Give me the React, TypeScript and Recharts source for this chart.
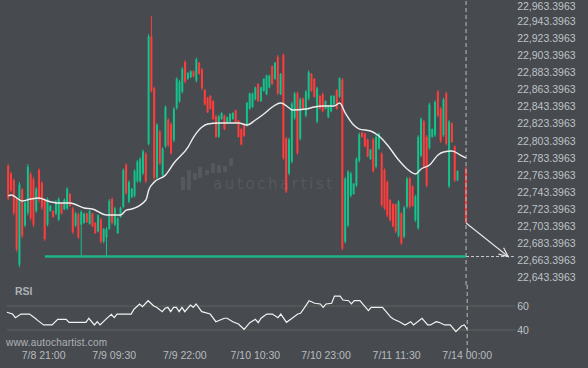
import React from "react";
import {
  ComposedChart,
  Bar,
  Line,
  XAxis,
  YAxis,
  ReferenceLine,
} from "recharts";

// [open, high, low, close] per 30-minute bar, null where no bar is drawn
const candles: (number[] | null)[] = [
  [22774, 22776, 22734, 22736], [22765, 22767, 22743, 22745], [22757, 22759, 22716, 22719],
  [22735, 22737, 22673, 22676], [22658, 22755, 22655, 22752], [22746, 22748, 22689, 22692],
  [22704, 22734, 22702, 22731], [22719, 22776, 22716, 22773], [22764, 22767, 22710, 22713],
  [22758, 22761, 22702, 22705], [22721, 22749, 22719, 22747], [22769, 22771, 22731, 22734],
  [22754, 22756, 22722, 22725], [22734, 22736, 22686, 22688], [22705, 22737, 22703, 22735],
  [22721, 22728, 22720, 22727], [22721, 22722, 22713, 22714], [22718, 22734, 22716, 22732],
  [22711, 22737, 22709, 22735], [22730, 22731, 22717, 22718], [22723, 22736, 22722, 22734],
  [22724, 22749, 22722, 22747], [22741, 22742, 22726, 22727], [22724, 22726, 22694, 22696],
  [22704, 22720, 22702, 22718], [22717, 22719, 22688, 22690], [22705, 22722, 22668, 22720],
  [22707, 22719, 22706, 22718], [22718, 22719, 22707, 22708], [22706, 22722, 22705, 22721],
  [22718, 22719, 22702, 22703], [22707, 22708, 22694, 22695], [22697, 22717, 22696, 22716],
  [22711, 22713, 22683, 22685], [22685, 22701, 22683, 22700], [22690, 22702, 22668, 22700],
  [22700, 22735, 22699, 22733], [22735, 22737, 22705, 22707], [22705, 22726, 22703, 22724],
  [22695, 22714, 22694, 22712], [22714, 22726, 22713, 22725], [22726, 22771, 22724, 22769],
  [22775, 22777, 22740, 22742], [22732, 22757, 22730, 22755], [22737, 22748, 22736, 22747],
  [22739, 22770, 22737, 22768], [22756, 22781, 22754, 22779], [22756, 22784, 22754, 22782],
  [22765, 22793, 22763, 22791], [22788, 22790, 22754, 22756], [22800, 22929, 22798, 22926],
  [22926, 22950, 22860, 22862], [22865, 22867, 22757, 22760], [22760, 22824, 22757, 22822],
  [22814, 22816, 22775, 22777], [22763, 22796, 22761, 22794], [22797, 22845, 22795, 22843],
  [22828, 22830, 22796, 22798], [22823, 22825, 22787, 22789], [22804, 22843, 22802, 22841],
  [22842, 22878, 22840, 22876], [22850, 22875, 22848, 22873], [22861, 22890, 22859, 22888],
  [22896, 22898, 22871, 22873], [22876, 22884, 22875, 22883], [22878, 22886, 22877, 22885],
  [22885, 22886, 22878, 22879], [22874, 22901, 22872, 22899], [22895, 22896, 22881, 22882],
  [22887, 22889, 22863, 22865], [22863, 22864, 22845, 22846], [22854, 22855, 22836, 22837],
  [22856, 22857, 22840, 22841], [22850, 22851, 22828, 22829], [22832, 22834, 22807, 22808],
  [22808, 22834, 22807, 22832], [22829, 22837, 22828, 22836], [22833, 22834, 22816, 22817],
  [22825, 22832, 22824, 22831], [22826, 22836, 22825, 22835], [22829, 22837, 22828, 22836],
  [22839, 22840, 22824, 22825], [22827, 22828, 22807, 22808], [22817, 22818, 22798, 22799],
  [22823, 22824, 22808, 22809], [22821, 22849, 22820, 22848], [22841, 22860, 22840, 22859],
  [22843, 22860, 22842, 22859], [22852, 22867, 22851, 22866], [22870, 22871, 22849, 22850],
  [22850, 22867, 22849, 22866], [22862, 22877, 22861, 22876], [22858, 22881, 22857, 22880],
  [22866, 22881, 22865, 22880], [22891, 22892, 22869, 22870], [22876, 22896, 22875, 22895],
  [22902, 22904, 22857, 22859], [22858, 22883, 22857, 22882], [22904, 22906, 22781, 22783],
  [22806, 22808, 22742, 22744], [22765, 22807, 22763, 22805], [22779, 22849, 22777, 22847],
  [22830, 22861, 22828, 22859], [22859, 22861, 22787, 22789], [22806, 22854, 22804, 22852],
  [22853, 22854, 22840, 22841], [22833, 22863, 22831, 22861], [22853, 22886, 22851, 22884],
  [22882, 22883, 22861, 22862], [22876, 22877, 22854, 22855], [22826, 22867, 22824, 22865],
  [22856, 22857, 22840, 22841], [22858, 22860, 22837, 22838], [22841, 22851, 22840, 22850],
  [22831, 22845, 22830, 22844], [22838, 22857, 22837, 22856], [22846, 22857, 22845, 22856],
  [22863, 22864, 22840, 22841], [22855, 22878, 22854, 22877], [22875, 22877, 22675, 22677],
  [22685, 22761, 22683, 22759], [22704, 22769, 22702, 22767], [22739, 22767, 22737, 22765],
  [22741, 22754, 22740, 22753], [22751, 22784, 22749, 22782], [22780, 22813, 22778, 22811],
  [22813, 22814, 22807, 22808], [22812, 22813, 22796, 22797], [22805, 22806, 22784, 22785],
  [22782, 22794, 22781, 22793], [22805, 22807, 22766, 22768], [22773, 22810, 22771, 22808],
  [22794, 22813, 22793, 22812], [22788, 22790, 22726, 22728], [22769, 22771, 22722, 22724],
  [22755, 22757, 22714, 22716], [22734, 22735, 22709, 22710], [22729, 22730, 22702, 22703],
  [22729, 22730, 22695, 22697], [22692, 22734, 22690, 22732], [22718, 22720, 22681, 22683],
  [22691, 22727, 22689, 22725], [22726, 22761, 22724, 22759], [22759, 22761, 22724, 22726],
  [22750, 22751, 22726, 22727], [22710, 22740, 22708, 22738], [22701, 22810, 22699, 22808],
  [22786, 22831, 22784, 22829], [22826, 22828, 22771, 22773], [22808, 22810, 22749, 22751],
  [22795, 22848, 22793, 22846], [22808, 22818, 22807, 22817], [22810, 22851, 22808, 22849],
  [22861, 22863, 22831, 22833], [22841, 22843, 22801, 22803], [22810, 22854, 22808, 22852],
  [22859, 22861, 22798, 22800], [22750, 22828, 22748, 22826], [22824, 22825, 22801, 22802],
  [22797, 22798, 22755, 22757], [22757, 22769, 22756, 22768], null, null,
  [22771, 22773, 22707, 22707],
];

// moving average at some bars
const maIdx = [0, 1, 5, 8, 11, 14, 18, 22, 27, 30, 35, 40, 42, 44, 49, 50, 52, 56, 59, 64, 66, 69, 71, 75, 82, 85, 88, 91, 94, 97, 100, 101, 106, 109, 112, 116, 118, 120, 123, 125, 129, 132, 135, 139, 142, 145, 147, 150, 153, 155, 158, 161, 163];
const maVal = [22738.6, 22739.7, 22732.7, 22735.0, 22736.2, 22732.7, 22730.3, 22730.3, 22724.5, 22723.3, 22716.2, 22716.2, 22722.1, 22723.3, 22733.9, 22745.6, 22755.0, 22763.2, 22777.3, 22796.1, 22807.8, 22819.6, 22823.1, 22824.3, 22824.3, 22821.9, 22827.8, 22834.8, 22843.1, 22847.8, 22841.9, 22839.5, 22840.7, 22843.1, 22844.2, 22844.2, 22847.8, 22836.0, 22821.9, 22817.2, 22814.9, 22809.0, 22798.4, 22780.8, 22770.3, 22764.4, 22770.3, 22775.0, 22786.7, 22790.2, 22791.4, 22786.7, 22783.2];

// RSI
const rsiIdx = [0, 2, 3, 5, 8, 10, 11, 13, 16, 18, 21, 22, 28, 29, 31, 32, 33, 35, 37, 38, 39, 44, 45, 47, 48, 50, 52, 53, 55, 56, 57, 58, 59, 60, 61, 62, 63, 65, 66, 67, 69, 72, 74, 77, 78, 80, 82, 84, 86, 88, 89, 90, 92, 94, 96, 97, 99, 101, 103, 104, 106, 107, 109, 111, 112, 113, 115, 116, 118, 119, 121, 122, 123, 125, 128, 129, 133, 136, 137, 139, 141, 143, 144, 147, 149, 150, 152, 153, 155, 157, 159, 161, 162, 163];
const rsiVal = [54.8, 53.3, 50.3, 53.3, 53.3, 49.8, 47.8, 44.2, 44.2, 48.9, 48.9, 46.4, 46.4, 49.8, 44.2, 46.9, 44.2, 48.9, 53.1, 50.3, 53.3, 53.3, 57.3, 61.7, 59.4, 64.4, 60.0, 58.9, 55.3, 58.1, 58.9, 55.3, 58.9, 58.9, 55.3, 58.9, 55.3, 60.8, 58.9, 61.7, 55.3, 53.3, 46.9, 49.8, 49.8, 46.9, 45.0, 40.6, 46.1, 48.9, 46.1, 49.8, 53.3, 53.3, 50.3, 53.3, 46.4, 49.8, 53.3, 53.9, 60.8, 64.4, 62.3, 61.7, 58.9, 61.7, 62.3, 68.3, 68.3, 65.0, 64.4, 61.7, 64.4, 64.4, 56.1, 58.9, 58.9, 50.6, 48.9, 46.9, 44.2, 46.9, 44.2, 49.8, 44.2, 44.2, 46.9, 46.4, 44.2, 44.2, 38.6, 43.3, 44.2, 40.6];

const timeTicks = [13, 38, 63, 88, 113, 138, 163];
const timeLabels = ["7/8 21:00", "7/9 09:30", "7/9 22:00", "7/10 10:30", "7/10 23:00", "7/11 11:30", "7/14 00:00"];
const priceTicks = [22643.3963, 22663.3963, 22683.3963, 22703.3963, 22723.3963, 22743.3963, 22763.3963, 22783.3963, 22803.3963, 22823.3963, 22843.3963, 22863.3963, 22883.3963, 22903.3963, 22923.3963, 22943.3963, 22963.3963];
const rsiTicks = [40, 60];

const supportLevel = 22667.5;
const supportFrom = 13;
const lastBar = 163;
const arrowFrom = 22706.9;
const arrowTo = 22667.5;
const arrowEnd = 178;
const futureSlots = 17;

// little bars of the watermark logo: [left, top, height]
const logoBars = [[181, 177, 13], [187, 170, 20], [193, 173, 7], [198, 167, 11], [205, 170, 5], [211, 163, 10], [217, 165, 8], [223, 166, 6], [229, 158, 8]];

const data = Array.from({ length: candles.length + futureSlots }, (_, i) => {
  const c = candles[i] || null;
  const m = maIdx.indexOf(i);
  const r = rsiIdx.indexOf(i);
  return {
    i,
    o: c ? c[0] : null,
    h: c ? c[1] : null,
    l: c ? c[2] : null,
    c: c ? c[3] : null,
    ma: m >= 0 ? maVal[m] : null,
    rsi: r >= 0 ? rsiVal[r] : null,
  };
});

const UP = "#14C28B";
const DOWN = "#FF3D3D";
const BG = "#474A4F";
const FONT = "'Liberation Sans', Arial, sans-serif";

const Candle = (props: any) => {
  const { x, y, width, height, payload } = props;
  if (payload.h == null || height == null) return null;
  const cx = x + width / 2;
  const span = payload.h - payload.l || 1;
  const py = (v: number) => y + ((payload.h - v) / span) * height;
  const up = payload.c >= payload.o;
  const top = py(Math.max(payload.o, payload.c));
  const bot = py(Math.min(payload.o, payload.c));
  const color = up ? UP : DOWN;
  return (
    <g>
      <rect x={cx - 0.5} y={y} width={1} height={Math.max(height, 1)} fill={color} />
      <rect x={cx - 1} y={top} width={2} height={Math.max(bot - top, 1)} fill={color} />
    </g>
  );
};

const Arrow = (props: any) => {
  const { x1, y1, x2, y2 } = props;
  const ang = Math.atan2(y2 - y1, x2 - x1);
  const len = 10;
  const a1 = ang + Math.PI - 0.42;
  const a2 = ang + Math.PI + 0.42;
  return (
    <g stroke="#E6E6E6" strokeWidth={1.2} fill="none">
      <line x1={x1} y1={y1} x2={x2} y2={y2} />
      <polyline
        points={`${x2 + len * Math.cos(a1)},${y2 + len * Math.sin(a1)} ${x2},${y2} ${x2 + len * Math.cos(a2)},${y2 + len * Math.sin(a2)}`}
      />
    </g>
  );
};

const fmtPrice = (v: number) =>
  v.toLocaleString("en-US", { minimumFractionDigits: 4, maximumFractionDigits: 4 });

// price tick, kept inside the top edge
const PriceTick = (props: any) => {
  const { x, y, payload } = props;
  return (
    <text
      x={x}
      y={Math.max(y, 6)}
      dy="0.355em"
      textAnchor="start"
      fill="#BFC2C6"
      fontSize={10.5}
      fontFamily={FONT}
    >
      {fmtPrice(payload.value)}
    </text>
  );
};

export default function App() {
  return (
    <div
      style={{
        position: "relative",
        width: 588,
        height: 368,
        background: BG,
        fontFamily: FONT,
        overflow: "hidden",
      }}
    >
      <style>{"body{margin:0}"}</style>

      {/* watermark */}
      {logoBars.map((b, k) => (
        <div
          key={k}
          style={{
            position: "absolute",
            left: b[0],
            top: b[1],
            width: 3.5,
            height: b[2],
            borderRadius: 1,
            background: "#55585D",
          }}
        />
      ))}
      <div
        style={{
          position: "absolute",
          left: 213,
          top: 177,
          fontFamily: "'DejaVu Sans', sans-serif",
          fontSize: 15,
          lineHeight: "15px",
          letterSpacing: 2.6,
          color: "#55585D",
        }}
      >
        autochartist
      </div>

      <div style={{ position: "absolute", left: 0, top: 0 }}>
        <ComposedChart
          width={588}
          height={285}
          data={data}
          margin={{ top: 0, right: 0, bottom: 0, left: 6.9 }}
        >
          <XAxis dataKey="i" hide />
          <YAxis
            orientation="right"
            width={72.8}
            domain={[22634.1, 22968.7]}
            allowDataOverflow
            ticks={priceTicks}
            interval={0}
            axisLine={false}
            tickLine={false}
            tickSize={0}
            tickMargin={2}
            tick={<PriceTick />}
          />
          <Bar
            dataKey={(d: any) => (d.h != null ? [d.l, d.h] : null)}
            shape={Candle}
            isAnimationActive={false}
          />
          <Line
            dataKey="ma"
            type="monotone"
            stroke="#EDEDED"
            strokeWidth={1.4}
            dot={false}
            connectNulls
            isAnimationActive={false}
          />
          <ReferenceLine
            x={lastBar}
            stroke="#BDBDBD"
            strokeDasharray="4 3"
          />
          <ReferenceLine
            segment={[
              { x: supportFrom, y: supportLevel },
              { x: lastBar, y: supportLevel },
            ]}
            stroke="#1DB386"
            strokeWidth={2.5}
          />
          <ReferenceLine
            segment={[
              { x: lastBar, y: supportLevel },
              { x: data.length - 1, y: supportLevel },
            ]}
            stroke="#CFCFCF"
            strokeDasharray="3 2"
          />
          <ReferenceLine
            segment={[
              { x: lastBar, y: arrowFrom },
              { x: arrowEnd, y: arrowTo },
            ]}
            shape={Arrow}
          />
        </ComposedChart>
      </div>

      <div style={{ position: "absolute", left: 0, top: 285 }}>
        <ComposedChart
          width={588}
          height={83}
          data={data}
          margin={{ top: 0, right: 0, bottom: 0, left: 6.9 }}
        >
          <XAxis
            dataKey="i"
            height={16}
            ticks={timeTicks}
            interval={0}
            tickFormatter={(v: number) => timeLabels[timeTicks.indexOf(v)] || ""}
            axisLine={false}
            tickLine={false}
            tickSize={0}
            tickMargin={0}
            tick={{ fill: "#B8BBBF", fontSize: 10.5, fontFamily: FONT }}
          />
          <YAxis
            orientation="right"
            width={72.8}
            domain={[21.667, 77.5]}
            allowDataOverflow
            ticks={rsiTicks}
            interval={0}
            axisLine={false}
            tickLine={false}
            tickSize={0}
            tickMargin={2}
            tick={{ fill: "#BFC2C6", fontSize: 10.5, fontFamily: FONT }}
          />
          <ReferenceLine y={60} stroke="#5E6360" />
          <ReferenceLine y={40} stroke="#5E6360" />
          <ReferenceLine x={lastBar} stroke="#BDBDBD" strokeDasharray="4 3" />
          <Line
            dataKey="rsi"
            type="linear"
            stroke="#F2F2F2"
            strokeWidth={1.2}
            dot={false}
            connectNulls
            isAnimationActive={false}
          />
        </ComposedChart>
      </div>

      <div
        style={{
          position: "absolute",
          left: 15,
          top: 285,
          fontSize: 10.5,
          fontWeight: 700,
          color: "#AEB1B5",
        }}
      >
        RSI
      </div>
      <div
        style={{
          position: "absolute",
          left: 6,
          top: 337,
          fontSize: 10,
          lineHeight: "12px",
          letterSpacing: 0.2,
          color: "#B0B3B7",
        }}
      >
        www.autochartist.com
      </div>
    </div>
  );
}
